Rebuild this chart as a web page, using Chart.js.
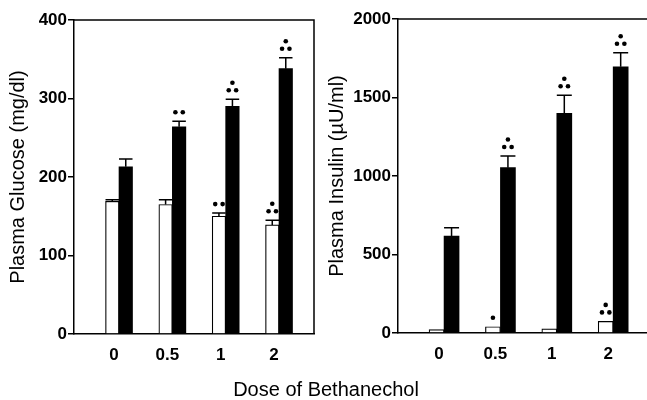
<!DOCTYPE html>
<html>
<head>
<meta charset="utf-8">
<script src="https://cdn.jsdelivr.net/npm/chart.js@4.4.1/dist/chart.umd.min.js"></script>
<style>
  html, body { margin: 0; padding: 0; background: #fff; }
  #wrap { position: relative; width: 647px; height: 400px; overflow: hidden; font-family: "Liberation Sans", Arial, sans-serif; }
  #c1 { position: absolute; left: 0; top: 0; }
  #c2 { position: absolute; left: 320px; top: 0; }
  #xt { position: absolute; left: 0; width: 652px; top: 379px; text-align: center; font-size: 20px; line-height: 20px; color: #000; }
</style>
</head>
<body>
<div id="wrap">
  <canvas id="c1" width="320" height="400"></canvas>
  <canvas id="c2" width="327" height="400"></canvas>
  <div id="xt">Dose of Bethanechol</div>
</div>
<script>
const doses = ['0', '0.5', '1', '2'];

const glucoseBasal = [169, 165, 150, 139];
const glucoseBasalErr = [2, 6, 4, 6];
const glucoseStim = [213, 264, 290, 338];
const glucoseStimErr = [10, 7, 9, 14];

const insulinBasal = [21, 40, 27, 74];
const insulinBasalErr = [0, 0, 0, 0];
const insulinStim = [618, 1053, 1399, 1696];
const insulinStimErr = [53, 74, 115, 89];

// significance marks above bars: 0 none, 1 one dot, 2 two dots, 3 three dots
const glucoseBasalSig = [0, 0, 2, 3];
const glucoseStimSig = [0, 2, 3, 3];
const insulinBasalSig = [0, 1, 0, 3];
const insulinStimSig = [0, 3, 3, 3];

const glucoseTicks = [0, 100, 200, 300, 400];
const insulinTicks = [0, 500, 1000, 1500, 2000];

const FONT = "'Liberation Sans', Arial, sans-serif";
Chart.defaults.font.family = FONT;
Chart.defaults.color = '#000';

const pts = arr => arr.map((v, i) => ({ x: i, y: v }));

// error bars + significance dots
const extras = {
  id: 'extras',
  afterDatasetsDraw(chart) {
    const ctx = chart.ctx, ys = chart.scales.y;
    ctx.save();
    ctx.strokeStyle = '#000'; ctx.fillStyle = '#000'; ctx.lineWidth = 1.5;
    chart.data.datasets.forEach((ds, di) => {
      const meta = chart.getDatasetMeta(di);
      meta.data.forEach((bar, i) => {
        const v = ds.data[i].y, e = ds.err[i];
        let top = ys.getPixelForValue(v);
        if (e > 0) {
          const yt = ys.getPixelForValue(v + e);
          const hw = bar.width / 2;
          ctx.beginPath();
          ctx.moveTo(bar.x, top); ctx.lineTo(bar.x, yt);
          ctx.moveTo(bar.x - hw, yt); ctx.lineTo(bar.x + hw, yt);
          ctx.stroke();
          top = yt;
        }
        const s = ds.sig[i];
        if (!s) return;
        const row = top - 9;
        const dot = (x, y) => { ctx.beginPath(); ctx.arc(x, y, 2.3, 0, Math.PI * 2); ctx.fill(); };
        if (s === 1) dot(bar.x, row);
        else {
          dot(bar.x - 3.7, row); dot(bar.x + 3.7, row);
          if (s === 3) dot(bar.x, row - 7.5);
        }
      });
    });
    ctx.restore();
  }
};

const frame = {
  id: 'frame',
  afterDraw(chart, args, opts) {
    const { ctx, chartArea: a } = chart;
    ctx.save();
    ctx.strokeStyle = '#000'; ctx.lineWidth = 1.5;
    ctx.beginPath();
    ctx.moveTo(a.left, a.top); ctx.lineTo(opts.right ? a.right : chart.width, a.top);
    if (opts.right) ctx.lineTo(a.right, a.bottom);
    ctx.stroke();
    ctx.restore();
  }
};

function makeChart(id, cfg) {
  return new Chart(document.getElementById(id), {
    type: 'bar',
    data: {
      datasets: [
        { label: 'Basal', data: pts(cfg.basal), err: cfg.basalErr, sig: cfg.basalSig,
          backgroundColor: '#fff', borderColor: '#000', borderWidth: 1.2, barThickness: cfg.bar },
        { label: 'Stimulated', data: pts(cfg.stim), err: cfg.stimErr, sig: cfg.stimSig,
          backgroundColor: '#000', borderColor: '#000', borderWidth: 0, barThickness: cfg.bar }
      ]
    },
    options: {
      responsive: false, animation: false,
      layout: { padding: { top: cfg.top, right: cfg.right, left: 0, bottom: 0 } },
      plugins: { legend: { display: false }, tooltip: { enabled: false }, frame: { right: cfg.frameRight } },
      scales: {
        x: {
          type: 'linear', min: cfg.xmin, max: cfg.xmax, offset: false,
          afterBuildTicks: s => { s.ticks = doses.map((d, i) => ({ value: i })); },
          afterFit: s => { s.height = cfg.xh; },
          border: { color: '#000', width: 1.5 },
          grid: { display: false, drawTicks: false },
          ticks: { autoSkip: false, maxRotation: 0, padding: 11, labelOffset: -5,
            callback: v => doses[v], font: { size: 17, weight: 'bold' } }
        },
        y: {
          min: 0, max: cfg.ymax,
          afterBuildTicks: s => { s.ticks = cfg.yticks.map(v => ({ value: v })); },
          afterFit: s => { s.width = cfg.yw; },
          border: { color: '#000', width: 1.5 },
          grid: { drawOnChartArea: false, drawTicks: true, tickLength: 6, color: '#000', lineWidth: 1.5 },
          ticks: { padding: 1, callback: v => String(v), font: { size: 17, weight: 'bold' } },
          title: { display: true, text: cfg.title, font: { size: 20 }, padding: { top: cfg.tpad, bottom: 0 } }
        }
      }
    },
    plugins: [extras, frame]
  });
}

makeChart('c1', {
  basal: glucoseBasal, basalErr: glucoseBasalErr, basalSig: glucoseBasalSig,
  stim: glucoseStim, stimErr: glucoseStimErr, stimSig: glucoseStimSig,
  yticks: glucoseTicks, ymax: 400, title: 'Plasma Glucose (mg/dl)',
  top: 20, right: 6, xh: 66, yw: 74, tpad: 6, xmin: -0.844, xmax: 3.656, bar: 13.5, frameRight: true
});

makeChart('c2', {
  basal: insulinBasal, basalErr: insulinBasalErr, basalSig: insulinBasalSig,
  stim: insulinStim, stimErr: insulinStimErr, stimSig: insulinStimSig,
  yticks: insulinTicks, ymax: 2000, title: 'Plasma Insulin (µU/ml)',
  top: 19, right: 0, xh: 67, yw: 78, tpad: 5, xmin: -0.817, xmax: 3.6, bar: 15, frameRight: false
});
</script>
</body>
</html>
